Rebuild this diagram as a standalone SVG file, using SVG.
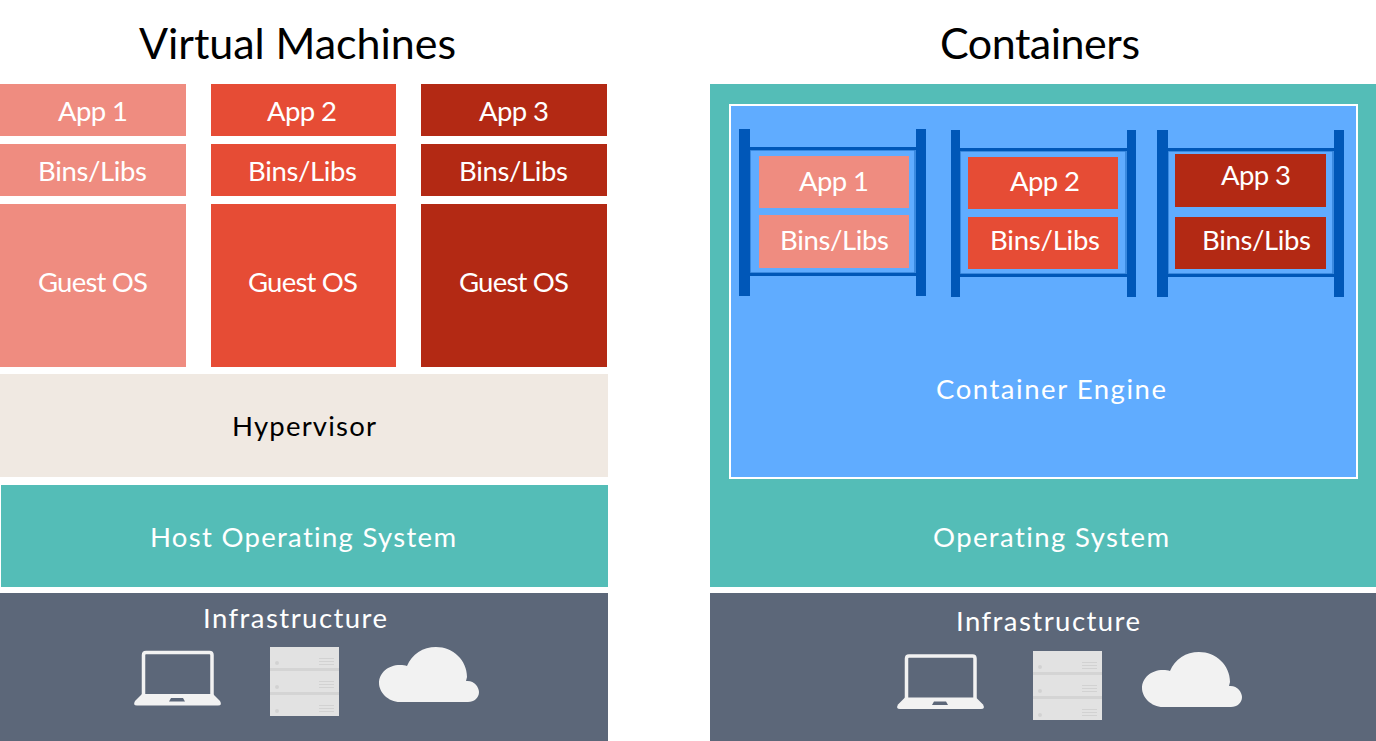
<svg xmlns="http://www.w3.org/2000/svg" xmlns:xlink="http://www.w3.org/1999/xlink" width="1376" height="741" viewBox="0 0 1376 741">
<style>
text{font-family:Lato,"Liberation Sans",sans-serif;font-size:27.500px;fill:#fff;font-variant-ligatures:none}
.title{font-size:43px;fill:#000}
.dark{fill:#000}
.c1{fill:#EF8C80}.c2{fill:#E64C35}.c3{fill:#B32914}
.teal{fill:#54BDB7}.slate{fill:#5C6779}.post{fill:#0057B8}.inner{fill:none;stroke:#2F7FD6;stroke-width:1.500}
</style>
<defs>
<g id="laptop">
<path d="M143.500 695V655Q143.500 652.500 146 652.500H209.500Q212 652.500 212 655V695" fill="none" stroke="#f2f2f2" stroke-width="3.500"/>
<path d="M142 694H213L220 701Q222.500 705.500 218 705.500H137Q132.500 705.500 135 701Z" fill="#f2f2f2"/>
<path d="M169 701.500L171 698H183L185 701.500Z" fill="#5C6779"/>
</g>
<g id="server">
<rect x="270" y="647" width="69" height="69" fill="#e2e2e2"/>
<rect x="270" y="668" width="69" height="3" fill="#d4d4d4"/>
<rect x="270" y="692" width="69" height="3" fill="#d4d4d4"/>
<g fill="#d2d2d2">
<circle cx="277" cy="663" r="2"/><circle cx="277" cy="687" r="2"/><circle cx="277" cy="711" r="2"/>
<rect x="319" y="658" width="15" height="1"/><rect x="319" y="661" width="15" height="1"/><rect x="319" y="664" width="15" height="1"/>
<rect x="319" y="681" width="15" height="1"/><rect x="319" y="684" width="15" height="1"/><rect x="319" y="687" width="15" height="1"/>
<rect x="319" y="705" width="15" height="1"/><rect x="319" y="708" width="15" height="1"/><rect x="319" y="711" width="15" height="1"/>
</g>
</g>
<path id="cloud" d="M400 702C388 702 379 692 379 683C379 673 388 665 400 665C403 665 405 665 407 666C412 654 423 647 436 647C453 647 467 660 467 677L466 681C474 680 479 687 479 692C479 698 474 702 468 702Z" fill="#f2f2f2"/>
</defs>
<rect width="1376" height="741" fill="#fff"/>

<text id="title-vm" class="title" x="139" y="59" textLength="317">Virtual Machines</text>
<text id="title-containers" class="title" x="940" y="59" textLength="200">Containers</text>

<g id="vm-app1">
<rect class="c1" x="0" y="84" width="186" height="52"/><text x="58" y="121" textLength="70">App 1</text>
<rect class="c1" x="0" y="144" width="186" height="52"/><text x="38" y="181" textLength="109">Bins/Libs</text>
<rect class="c1" x="0" y="204" width="186" height="163"/><text x="38" y="291.500" textLength="110">Guest OS</text>
</g>
<g id="vm-app2">
<rect class="c2" x="211" y="84" width="185" height="52"/><text x="267" y="121" textLength="70">App 2</text>
<rect class="c2" x="211" y="144" width="185" height="52"/><text x="248" y="181" textLength="109">Bins/Libs</text>
<rect class="c2" x="211" y="204" width="185" height="163"/><text x="248" y="291.500" textLength="110">Guest OS</text>
</g>
<g id="vm-app3">
<rect class="c3" x="421" y="84" width="186" height="52"/><text x="479" y="121" textLength="70">App 3</text>
<rect class="c3" x="421" y="144" width="186" height="52"/><text x="459" y="181" textLength="109">Bins/Libs</text>
<rect class="c3" x="421" y="204" width="186" height="163"/><text x="459" y="291.500" textLength="110">Guest OS</text>
</g>
<g id="hypervisor">
<rect x="0" y="374" width="608" height="103" fill="#F0E9E2"/><text class="dark" x="232" y="436" textLength="144">Hypervisor</text>
</g>
<g id="host-os">
<rect class="teal" x="1" y="485" width="607" height="102"/><text x="150" y="547" textLength="306">Host Operating System</text>
</g>
<g id="vm-infra">
<rect class="slate" x="0" y="593" width="608" height="148"/><text x="203" y="628" textLength="184">Infrastructure</text>
<use xlink:href="#laptop" href="#laptop"/><use xlink:href="#server" href="#server"/><use xlink:href="#cloud" href="#cloud"/>
</g>

<g id="operating-system">
<rect class="teal" x="710" y="84" width="666" height="503"/><text x="933" y="547" textLength="236">Operating System</text>
</g>
<g id="container-engine">
<rect x="730" y="105" width="627" height="373" fill="#60ACFF" stroke="#fff" stroke-width="2"/><text x="936" y="398.500" textLength="230">Container Engine</text>
</g>
<g id="container1">
<rect class="inner" x="750" y="150" width="165" height="123"/>
<rect class="post" x="739" y="129" width="11" height="167"/><rect class="post" x="916" y="129" width="10" height="167"/>
<rect class="post" x="750" y="147" width="166" height="3"/><rect class="post" x="750" y="273" width="166" height="3"/>
<rect class="c1" x="759" y="156" width="150" height="52"/><text x="799" y="190.500" textLength="70">App 1</text>
<rect class="c1" x="759" y="215" width="150" height="53"/><text x="780" y="250" textLength="109">Bins/Libs</text>
</g>
<g id="container2">
<rect class="inner" x="960" y="151" width="166" height="123"/>
<rect class="post" x="951" y="130" width="9" height="167"/><rect class="post" x="1127" y="130" width="9" height="167"/>
<rect class="post" x="960" y="148" width="167" height="3"/><rect class="post" x="960" y="274" width="167" height="3"/>
<rect class="c2" x="968" y="157" width="150" height="52"/><text x="1010" y="191" textLength="70">App 2</text>
<rect class="c2" x="968" y="217" width="150" height="52"/><text x="990" y="250" textLength="110">Bins/Libs</text>
</g>
<g id="container3">
<rect class="inner" x="1168" y="151" width="165" height="123"/>
<rect class="post" x="1157" y="130" width="11" height="167"/><rect class="post" x="1334" y="130" width="10" height="167"/>
<rect class="post" x="1168" y="148" width="166" height="3"/><rect class="post" x="1168" y="274" width="166" height="3"/>
<rect class="c3" x="1175" y="154" width="151" height="53"/><text x="1221" y="185" textLength="70">App 3</text>
<rect class="c3" x="1175" y="217" width="151" height="52"/><text x="1202" y="250" textLength="109">Bins/Libs</text>
</g>
<g id="container-infra">
<rect class="slate" x="710" y="593" width="666" height="148"/><text x="956" y="631" textLength="184">Infrastructure</text>
<use xlink:href="#laptop" href="#laptop" transform="translate(763 3.500)"/><use xlink:href="#server" href="#server" transform="translate(763 4)"/><use xlink:href="#cloud" href="#cloud" transform="translate(763 5)"/>
</g>
</svg>
